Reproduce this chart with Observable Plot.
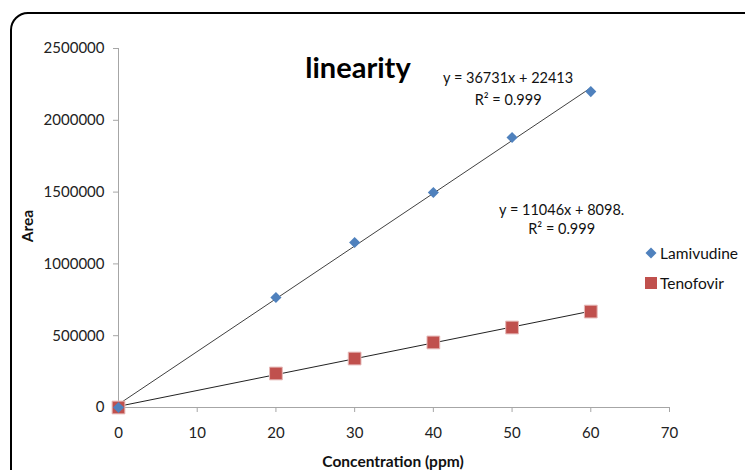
<!DOCTYPE html>
<html>
<head>
<meta charset="utf-8">
<script src="https://cdn.jsdelivr.net/npm/d3@7"></script>
<script src="https://cdn.jsdelivr.net/npm/@observablehq/plot@0.6"></script>
<style>
  body { margin: 0; background: #fff; width: 745px; height: 470px; overflow: hidden; position: relative; font-family: Lato, "Open Sans", sans-serif; }
  #frame { position: absolute; left: 10px; top: 12px; width: 780px; height: 500px; border: 2.5px solid #000; border-radius: 18px; box-sizing: border-box; }
  #chart { position: absolute; left: 0; top: 0; }
  .lbl { position: absolute; font-weight: bold; font-size: 15.5px; color: #111; white-space: nowrap; }
  .leg { position: absolute; font-size: 15.5px; color: #111; display: flex; align-items: center; white-space: nowrap; }
</style>
</head>
<body>
<div id="frame"></div>
<div id="chart"></div>
<div class="lbl" style="left:393px; top:452px; transform:translateX(-50%);">Concentration (ppm)</div>
<div class="lbl" style="left:27px; top:226px; transform:translate(-50%,-50%) rotate(-90deg);">Area</div>
<div class="leg" style="left:644px; top:244px;"><svg width="14" height="14"><path d="M7,1.5L12.5,7L7,12.5L1.5,7Z" fill="#4f81bd"/></svg><span style="margin-left:2px">Lamivudine</span></div>
<div class="leg" style="left:644px; top:274px;"><svg width="14" height="14"><rect x="1" y="1" width="12" height="12" fill="#c0504d"/></svg><span style="margin-left:2px">Tenofovir</span></div>
<script>
const concentrations = [0, 20, 30, 40, 50, 60];
const lamivudine = [0, 766000, 1149000, 1497000, 1880000, 2200000];
const tenofovir = [0, 237000, 341000, 453000, 557000, 668000];
const fitLamivudine = {slope: 36731, intercept: 22413};
const fitTenofovir = {slope: 11046, intercept: 8098};
const xTicks = [0, 10, 20, 30, 40, 50, 60, 70];
const yTicks = [0, 500000, 1000000, 1500000, 2000000, 2500000];
const eqLabels = ["y = 36731x + 22413", "R² = 0.999", "y = 11046x + 8098.", "R² = 0.999"];
const eqX = [49.5, 49.5, 56.3, 56.3];
const eqY = [2290000, 2138000, 1372000, 1240000];

const lamiPts = concentrations.map((c, i) => ({x: c, y: lamivudine[i]}));
const tenoPts = concentrations.map((c, i) => ({x: c, y: tenofovir[i]}));
const fitLine = (f) => [0, 60].map(x => ({x, y: f.slope * x + f.intercept}));
const eqs = eqLabels.map((t, i) => ({t, x: eqX[i], y: eqY[i]}));

const chart = Plot.plot({
  width: 745,
  height: 470,
  marginLeft: 118,
  marginRight: 76,
  marginTop: 48,
  marginBottom: 63,
  style: {fontFamily: "Lato, 'Open Sans', sans-serif", fontSize: "15px", color: "#222", background: "transparent"},
  x: {domain: [0, 70]},
  y: {domain: [0, 2500000]},
  marks: [
    Plot.ruleX([0], {stroke: "#a6a6a6", strokeWidth: 1}),
    Plot.ruleY([0], {stroke: "#a6a6a6", strokeWidth: 1}),
    Plot.axisX({ticks: xTicks, tickSize: 5, tickPadding: 15, stroke: "#a6a6a6", label: null, fill: "#222"}),
    Plot.axisY({ticks: yTicks, tickSize: 5, tickPadding: 9, stroke: "#a6a6a6", tickFormat: d3.format("d"), label: null, fill: "#222"}),
    Plot.line(fitLine(fitLamivudine), {x: "x", y: "y", stroke: "#404040", strokeWidth: 1}),
    Plot.line(fitLine(fitTenofovir), {x: "x", y: "y", stroke: "#222", strokeWidth: 1}),
    Plot.dot(tenoPts, {x: "x", y: "y", symbol: "square", r: 7.2, fill: "#c0504d", stroke: "#e6b9b8", strokeWidth: 1}),
    Plot.dot(lamiPts, {x: "x", y: "y", symbol: "diamond2", r: 5, fill: "#4f81bd", stroke: "none"}),
    Plot.text(eqs, {x: "x", y: "y", text: "t", fontSize: 14.5, fill: "#111"}),
    Plot.text(["linearity"], {frameAnchor: "top", dx: -36, dy: 9, fontSize: 29, fontWeight: "bold", fill: "#000"})
  ]
});
document.getElementById("chart").appendChild(chart);
</script>
</body>
</html>
